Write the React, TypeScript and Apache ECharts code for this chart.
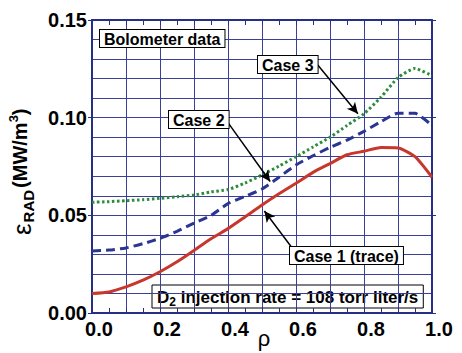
import React, { useEffect, useRef } from 'react';
import * as echarts from 'echarts';

const rho = [0, 0.05, 0.1, 0.15, 0.2, 0.25, 0.3, 0.35, 0.4, 0.45, 0.5, 0.55, 0.6, 0.65, 0.7, 0.75, 0.8, 0.85, 0.9, 0.95, 1.0];
const case1 = [0.0100, 0.0108, 0.0134, 0.0168, 0.0211, 0.0262, 0.0320, 0.0380, 0.0432, 0.0492, 0.0553, 0.0610, 0.0664, 0.0720, 0.0765, 0.0810, 0.0828, 0.0847, 0.0845, 0.0800, 0.0695];
const case2 = [0.0318, 0.0322, 0.0333, 0.0355, 0.0382, 0.0418, 0.0460, 0.0500, 0.0560, 0.0597, 0.0635, 0.0695, 0.0758, 0.0805, 0.0848, 0.0885, 0.0930, 0.0980, 0.1023, 0.1022, 0.0960];
const case3 = [0.0567, 0.0570, 0.0575, 0.0580, 0.0587, 0.0595, 0.0604, 0.0620, 0.0632, 0.0665, 0.0707, 0.0752, 0.0800, 0.0850, 0.0900, 0.0960, 0.1020, 0.1105, 0.1205, 0.1252, 0.1215];
const xTickLabels = ['0.0', '0.2', '0.4', '0.6', '0.8', '1.0'];
const yTickLabels = ['0.00', '0.05', '0.10', '0.15'];

// arrows: [from, to] in data coordinates
const arrow3 = [[0.664, 0.127], [0.782, 0.102]];
const arrow2 = [[0.401, 0.0972], [0.524, 0.0673]];
const arrow1 = [[0.586, 0.0339], [0.507, 0.0522]];

const FF = '"Liberation Sans", Arial, Helvetica, sans-serif';
const FRAME = '#252f86';
const GRID = '#3a3f98';

export default function App() {
  const ref = useRef<HTMLDivElement>(null);
  useEffect(() => {
    if (!ref.current) return;
    const chart = echarts.init(ref.current, undefined, { renderer: 'svg' });
    const ctx = document.createElement('canvas').getContext('2d')!;
    const measure = (t: string, f: string) => { ctx.font = f; return ctx.measureText(t).width; };

    const box = (text: string, x: number, y: number) => ({
      type: 'text', x, y, z: 100,
      style: {
        text, font: `bold 16px ${FF}`, fill: '#000', align: 'left', verticalAlign: 'top',
        backgroundColor: '#fff', borderColor: '#000', borderWidth: 1, padding: [1, 4, 0, 4],
      },
    });

    // y axis name pieces
    const fEps = `normal 26px ${FF}`;
    const fSub = `bold 15px ${FF}`;
    const fMain = `bold 20px ${FF}`;
    const fSup = `bold 13px ${FF}`;
    const wEps = measure('ε', fEps);
    const wRad = measure('RAD', fSub);
    const wMain = measure('(MW/m', fMain);
    const wSup = measure('3', fSup);
    let lx = 0;
    const yName: any[] = [];
    yName.push({ type: 'text', x: lx, y: 2, style: { text: 'ε', font: fEps, fill: '#000', align: 'left', verticalAlign: 'middle' } });
    lx += wEps + 1;
    yName.push({ type: 'text', x: lx, y: 8, style: { text: 'RAD', font: fSub, fill: '#000', align: 'left', verticalAlign: 'middle' } });
    lx += wRad + 2;
    yName.push({ type: 'text', x: lx, y: 0, style: { text: '(MW/m', font: fMain, fill: '#000', align: 'left', verticalAlign: 'middle' } });
    lx += wMain;
    yName.push({ type: 'text', x: lx, y: -7, style: { text: '3', font: fSup, fill: '#000', align: 'left', verticalAlign: 'middle' } });
    lx += wSup;
    yName.push({ type: 'text', x: lx, y: 0, style: { text: ')', font: fMain, fill: '#000', align: 'left', verticalAlign: 'middle' } });

    // D2 box pieces
    const fD = `bold 17px ${FF}`;
    const fD2 = `bold 12px ${FF}`;
    const wD = measure('D', fD);
    const w2 = measure('2', fD2);
    const rest = ' injection rate = 108 torr liter/s';
    const wRest = measure(rest, fD);
    const dx = 152, dy = 285, dh = 23;
    const dw = wD + w2 + wRest + 10;

    const frameAxis = { show: true, onZero: false, lineStyle: { color: FRAME, width: 2 } };
    const lbl = { fontSize: 20, fontWeight: 'bold', fontFamily: FF, color: '#000' };

    const option: any = {
      animation: false,
      backgroundColor: '#fff',
      grid: { left: 92, top: 20, right: 30, bottom: 40, containLabel: false, outerBoundsMode: 'none' },
      xAxis: [
        {
          type: 'value', position: 'bottom', min: 0, max: 1, interval: 0.1,
          axisLine: frameAxis,
          axisTick: { show: true, inside: true, length: 5, lineStyle: { color: FRAME, width: 1 } },
          minorTick: { show: true, splitNumber: 2, length: 5, lineStyle: { color: FRAME, width: 1 } },
          splitLine: { show: true, lineStyle: { color: GRID, width: 1 } },
          axisLabel: {
            ...lbl, margin: 6, padding: [0, 0, 0, 14],
            formatter: (v: number) => { const i = Math.round(v * 10); return i % 2 === 0 ? xTickLabels[i / 2] : ''; },
          },
        },
        {
          type: 'value', position: 'top', min: 0, max: 1, interval: 0.1,
          axisLine: frameAxis,
          axisTick: { show: true, inside: true, length: 5, lineStyle: { color: FRAME, width: 1 } },
          minorTick: { show: true, splitNumber: 2, length: 5, lineStyle: { color: FRAME, width: 1 } },
          splitLine: { show: false }, axisLabel: { show: false },
        },
      ],
      yAxis: [
        {
          type: 'value', position: 'left', min: 0, max: 0.15, interval: 0.05,
          axisLine: frameAxis,
          axisTick: { show: true, inside: false, length: 4, lineStyle: { color: FRAME, width: 1 } },
          minorTick: { show: false, splitNumber: 5 },
          splitLine: { show: true, lineStyle: { color: GRID, width: 1 } },
          minorSplitLine: { show: true, lineStyle: { color: GRID, width: 1 } },
          axisLabel: {
            ...lbl, margin: 5,
            formatter: (v: number) => yTickLabels[Math.round(v / 0.05)] ?? '',
          },
        },
        {
          type: 'value', position: 'right', min: 0, max: 0.15, interval: 0.05,
          axisLine: frameAxis,
          axisTick: { show: true, inside: false, length: 4, lineStyle: { color: FRAME, width: 1 } },
          splitLine: { show: false }, axisLabel: { show: false },
        },
      ],
      series: [
        {
          name: 'Case 1 (trace)', type: 'line', xAxisIndex: 0, yAxisIndex: 0,
          data: rho.map((r, i) => [r, case1[i]]), showSymbol: false, smooth: 0.2, z: 3,
          lineStyle: { color: '#c8372b', width: 3 },
          markLine: {
            silent: true, symbol: ['none', 'arrow'], symbolSize: [8, 11], animation: false,
            label: { show: false },
            lineStyle: { color: '#000', width: 1.5, type: 'solid' },
            emphasis: { disabled: true },
            data: [
              [{ coord: arrow3[0] }, { coord: arrow3[1] }],
              [{ coord: arrow2[0] }, { coord: arrow2[1] }],
              [{ coord: arrow1[0] }, { coord: arrow1[1] }],
            ],
          },
        },
        {
          name: 'Case 2', type: 'line', xAxisIndex: 0, yAxisIndex: 0,
          data: rho.map((r, i) => [r, case2[i]]), showSymbol: false, smooth: 0.2, z: 3,
          lineStyle: { color: '#2b3592', width: 3, type: [9, 5] },
        },
        {
          name: 'Case 3', type: 'line', xAxisIndex: 0, yAxisIndex: 0,
          data: rho.map((r, i) => [r, case3[i]]), showSymbol: false, smooth: 0.2, z: 4,
          lineStyle: { color: '#2e8b3c', width: 3, type: [2.5, 2.5] },
        },
      ],
      graphic: [
        box('Bolometer data', 100, 30),
        box('Case 3', 258, 56),
        box('Case 2', 169, 111),
        box('Case 1 (trace)', 290, 247),
        {
          type: 'group', x: dx, y: dy, z: 100,
          children: [
            { type: 'rect', shape: { x: 0, y: 0, width: dw, height: dh }, style: { fill: '#fff', stroke: '#000', lineWidth: 1 } },
            { type: 'text', x: 5, y: dh / 2 + 1, style: { text: 'D', font: fD, fill: '#000', align: 'left', verticalAlign: 'middle' } },
            { type: 'text', x: 5 + wD, y: dh / 2 + 5, style: { text: '2', font: fD2, fill: '#000', align: 'left', verticalAlign: 'middle' } },
            { type: 'text', x: 5 + wD + w2, y: dh / 2 + 1, style: { text: rest, font: fD, fill: '#000', align: 'left', verticalAlign: 'middle' } },
          ],
        },
        { type: 'group', x: 20, y: 235, rotation: Math.PI / 2, z: 100, children: yName },
        { type: 'text', x: 264, y: 338, z: 100, style: { text: 'ρ', font: `normal 22px ${FF}`, fill: '#000', align: 'center', verticalAlign: 'middle' } },
      ],
    };
    chart.setOption(option);
    return () => chart.dispose();
  }, []);
  return <div ref={ref} style={{ position: 'fixed', left: 0, top: 0, width: 462, height: 353, background: '#fff' }} />;
}
